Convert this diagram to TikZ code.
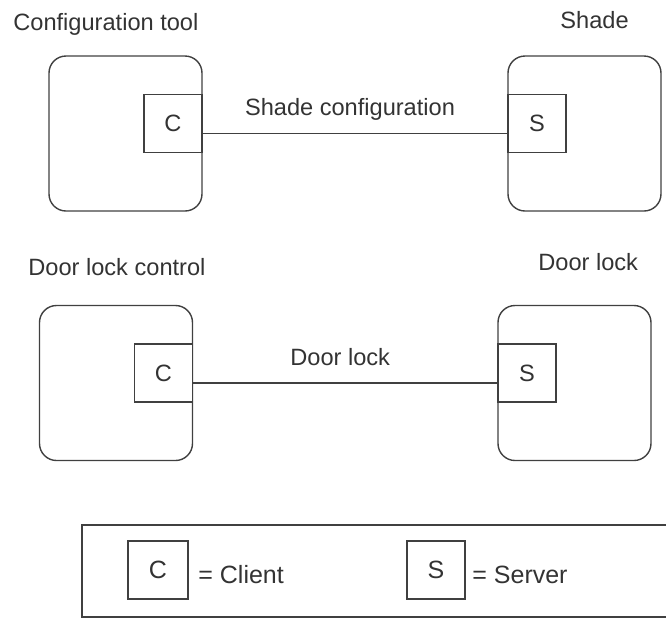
\documentclass[tikz,border=0pt]{standalone}
\usepackage{fontspec}
\setmainfont{Liberation Sans}

\begin{document}
\begin{tikzpicture}[x=0.5pt,y=-0.5pt,
every node/.style={text=black!80},
app/.style={draw=black!75, line width=0.7pt, rounded corners=8.5pt, minimum width=76.5pt, minimum height=77.5pt},
port/.style={draw=black!75, line width=0.7pt, fill=white, minimum width=29pt, minimum height=29pt, inner sep=0pt, font=\fontsize{11.8}{14}\selectfont},
title/.style={inner sep=0pt, anchor=base west, font=\fontsize{11.8}{14}\selectfont},
link/.style={draw=black!75, line width=0.7pt},
linklabel/.style={anchor=base, xshift=-2.5pt, yshift=9pt, inner sep=0pt, font=\fontsize{11.8}{14}\selectfont},
legendtext/.style={inner sep=0pt, anchor=base west, font=\fontsize{12.5}{15}\selectfont}]
\clip (0,0) rectangle (666,618);
% shade
\node[title] (conftooltitle) at (13,30) {Configuration tool};
\node[app] (conftool) at (125.5,133.5) {};
\node[port, anchor=east] (conftoolc) at ([yshift=5pt]conftool.east) {C};
\node[title] (shadetitle) at (560,28) {Shade};
\node[app] (shade) at (584.5,133.5) {};
\node[port, anchor=west] (shades) at ([yshift=5pt]shade.west) {S};
\draw[link] (conftool.east) -- node[linklabel] (shadelink) {Shade configuration} (shade.west);
% door lock
\node[title] (doorctrltitle) at (28,275) {Door lock control};
\node[app] (doorctrl) at (116,383) {};
\node[port, anchor=east] (doorctrlc) at ([yshift=5pt]doorctrl.east) {C};
\node[title] (doorlocktitle) at (538,270) {Door lock};
\node[app] (doorlock) at (574.5,383) {};
\node[port, anchor=west] (doorlocks) at ([yshift=5pt]doorlock.west) {S};
\draw[link] (doorctrl.east) -- node[linklabel] (doorlink) {Door lock} (doorlock.west);
% legend
\draw[link] (82,525) rectangle (700,617);
\node[port, minimum width=30pt, font=\fontsize{12.5}{15}\selectfont] (legendc) at (158,570) {C};
\node[legendtext] (legendclient) at (198,583) {= Client};
\node[port, font=\fontsize{12.5}{15}\selectfont] (legends) at (436,570) {S};
\node[legendtext] (legendserver) at (472,583) {= Server};
\end{tikzpicture}
\end{document}
